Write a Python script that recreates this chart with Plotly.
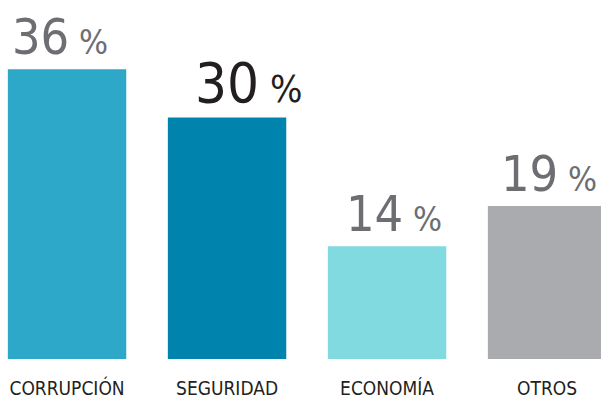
import plotly.graph_objects as go

categories = ["CORRUPCIÓN", "SEGURIDAD", "ECONOMÍA", "OTROS"]
values = [36, 30, 14, 19]
bar_colors = ["#2ea8c8", "#0083ad", "#80dae0", "#aaabaf"]
label_colors = ["#6d6e72", "#231f20", "#6d6e72", "#6d6e72"]
label_sizes = [50, 56, 50, 50]
pct_sizes = [34, 38, 34, 34]
label_xshift = [-7, 21, 7, 2]

FONT = "'DejaVu Sans Condensed', 'Liberation Sans Narrow', 'Arial Narrow', sans-serif"

fig = go.Figure(go.Bar(
    x=categories, y=values, marker=dict(color=bar_colors, line=dict(width=0)),
    width=0.74, hoverinfo="skip",
))

for c, v, col, s, ps, xs in zip(categories, values, label_colors, label_sizes, pct_sizes, label_xshift):
    fig.add_annotation(
        x=c, y=v, yanchor="bottom", xanchor="center", showarrow=False,
        xshift=xs, yshift=1,
        text=f"{v}<span style='font-size:{ps}px'> %</span>",
        font=dict(family=FONT, size=s, color=col),
    )

fig.update_layout(
    width=601, height=405,
    margin=dict(l=0, r=0, t=0, b=46, autoexpand=False),
    paper_bgcolor="white", plot_bgcolor="white",
    showlegend=False,
    xaxis=dict(range=[-0.419, 3.337], showgrid=False, zeroline=False, showline=False,
               automargin=False,
               ticks="", tickfont=dict(family=FONT, size=19, color="#231f20"),
               ticklabelstandoff=16),
    yaxis=dict(range=[0, 44.6], visible=False, automargin=False),
)

fig.write_html(
    "out.html",
    config={"displayModeBar": False},
    post_script="document.body.style.margin='0';document.body.style.overflow='hidden';",
)
